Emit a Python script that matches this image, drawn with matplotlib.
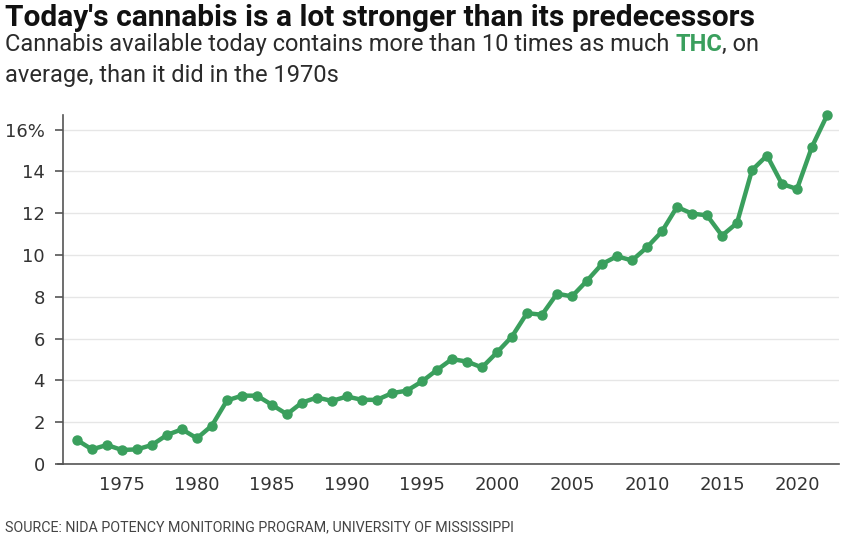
import matplotlib
matplotlib.use("Agg")
import matplotlib.pyplot as plt
from matplotlib.transforms import offset_copy

years = list(range(1972, 2023))
thc = [1.15, 0.70, 0.91, 0.67, 0.70, 0.91, 1.39, 1.66, 1.23, 1.84,
       3.04, 3.27, 3.27, 2.83, 2.38, 2.94, 3.18, 3.02, 3.23, 3.07,
       3.07, 3.39, 3.51, 3.95, 4.50, 5.02, 4.90, 4.62, 5.34, 6.10,
       7.22, 7.14, 8.15, 8.02, 8.77, 9.57, 9.94, 9.74, 10.37, 11.13,
       12.30, 11.98, 11.90, 10.93, 11.53, 14.06, 14.76, 13.40, 13.16, 15.18,
       16.68]
xticks = [1975, 1980, 1985, 1990, 1995, 2000, 2005, 2010, 2015, 2020]
yticks = [0, 2, 4, 6, 8, 10, 12, 14, 16]
ylabels = ["0", "2", "4", "6", "8", "10", "12", "14", "16%"]

green = "#3a9f5d"
fam = ["Roboto", "DejaVu Sans"]

W, H = 847, 537
fig = plt.figure(figsize=(W / 100, H / 100), dpi=100)
renderer = fig.canvas.get_renderer()
ax = fig.add_axes([63 / W, 1 - 464 / H, (839 - 63) / W, (464 - 115) / H])

ax.plot(years, thc, color=green, lw=3.2, marker="o", ms=6.5, zorder=3,
        solid_joinstyle="round", clip_on=False)

ax.set_xlim(1971.07, 2022.8)
ax.set_ylim(0, 16.7)
ax.set_xticks(xticks)
ax.set_yticks(yticks)
ax.set_yticklabels(ylabels)
ax.tick_params(axis="x", length=0, pad=9, labelsize=13, labelcolor="#333333")
ax.tick_params(axis="y", length=6, width=1.2, color="#555555", pad=7,
               labelsize=13, labelcolor="#333333")
ax.grid(axis="y", color="#e6e6e6", lw=1)
ax.set_axisbelow(True)
for s in ["top", "right"]:
    ax.spines[s].set_visible(False)
ax.spines["left"].set_color("#555555")
ax.spines["left"].set_linewidth(1.2)
ax.spines["bottom"].set_color("#555555")
ax.spines["bottom"].set_linewidth(1.2)
# bottom axis line sticks out a little to the left
ax.plot([-5 / 776, 0], [0, 0], transform=ax.transAxes, color="#555555",
        lw=1.2, clip_on=False)


def fit(t, right_px):
    # shrink the font until the text ends near right_px
    while t.get_window_extent(renderer).x1 > right_px and t.get_size() > 6:
        t.set_size(t.get_size() - 0.25)
    return t


fit(fig.text(5 / W, 1 - 26 / H, "Today's cannabis is a lot stronger than its predecessors",
             family=fam, weight="bold", size=21.5, color="#111111", va="baseline"), 763)

# subtitle with a green bold THC
sub = fig.text(5 / W, 1 - 51 / H,
               "Cannabis available today contains more than 10 times as much THC, on",
               family=fam, size=18, va="baseline")
fit(sub, 761)
sub_size = sub.get_size()
sub.remove()

parts = [("Cannabis available today contains more than 10 times as much ", "normal", "#2b2b2b"),
         ("THC", "bold", green),
         (", on", "normal", "#2b2b2b")]
tr = fig.transFigure
for txt, wt, col in parts:
    t = fig.text(5 / W, 1 - 51 / H, txt, family=fam, weight=wt, size=sub_size,
                 color=col, transform=tr, va="baseline")
    bb = t.get_window_extent(renderer)
    tr = offset_copy(t.get_transform(), fig=fig, x=bb.width, units="dots")
fig.text(5 / W, 1 - 82 / H, "average, than it did in the 1970s",
         family=fam, size=sub_size, color="#2b2b2b", va="baseline")

fit(fig.text(5 / W, 1 - 531 / H,
             "SOURCE: NIDA POTENCY MONITORING PROGRAM, UNIVERSITY OF MISSISSIPPI",
             family=fam, size=13, color="#444444", va="baseline"), 521)

fig.savefig("out.png", dpi=100)
